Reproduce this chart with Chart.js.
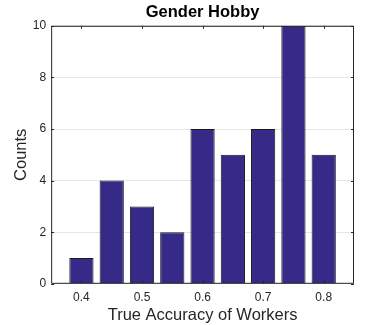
<!DOCTYPE html>
<html>
<head>
<meta charset="utf-8">
<script src="https://cdn.jsdelivr.net/npm/chart.js@4"></script>
<style>
  html, body { margin: 0; padding: 0; background: #fff; }
  #wrap { width: 390px; height: 325px; }
</style>
</head>
<body>
<div id="wrap"><canvas id="myChart"></canvas></div>
<script>
const accuracy = [0.40, 0.45, 0.50, 0.55, 0.60, 0.65, 0.70, 0.75, 0.80];
const counts = [1, 4, 3, 2, 6, 5, 6, 10, 5];
const xTicks = [0.4, 0.5, 0.6, 0.7, 0.8];
const yTicks = [0, 2, 4, 6, 8, 10];

// MATLAB style box with inward ticks
const boxPlugin = {
  id: 'box',
  afterDraw(chart) {
    const c = chart.ctx, a = chart.chartArea;
    const x = chart.scales.x, y = chart.scales.y;
    c.save();
    c.strokeStyle = '#262626';
    c.lineWidth = 1;
    c.beginPath();
    c.rect(a.left + 0.5, a.top + 0.5, a.right - a.left - 1, a.bottom - a.top - 1);
    xTicks.forEach(v => {
      const px = Math.round(x.getPixelForValue(v)) + 0.5;
      c.moveTo(px, a.bottom); c.lineTo(px, a.bottom - 3);
      c.moveTo(px, a.top); c.lineTo(px, a.top + 3);
    });
    yTicks.forEach(v => {
      const py = Math.round(y.getPixelForValue(v)) + 0.5;
      c.moveTo(a.left, py); c.lineTo(a.left + 3, py);
      c.moveTo(a.right, py); c.lineTo(a.right - 3, py);
    });
    c.stroke();
    c.restore();
  }
};

const ctx = document.getElementById('myChart');

const chart = new Chart(ctx, {
  type: 'bar',
  data: {
    datasets: [{
      data: accuracy.map((v, i) => ({ x: v, y: counts[i] })),
      backgroundColor: '#352a87',
      borderColor: '#1a1a1a',
      borderWidth: 1,
      barPercentage: 0.8,
      categoryPercentage: 1.0
    }]
  },
  options: {
    responsive: true,
    maintainAspectRatio: false,
    animation: false,
    layout: { padding: { left: 12, right: 36, top: 0, bottom: 0 } },
    plugins: {
      legend: { display: false },
      tooltip: { enabled: false },
      title: {
        display: true,
        fullSize: false,
        text: 'Gender Hobby',
        color: '#000',
        font: { family: 'Liberation Sans', size: 16.5, weight: 'bold' },
        padding: { top: 3, bottom: 3 }
      }
    },
    scales: {
      x: {
        type: 'linear',
        offset: false,
        min: 0.35,
        max: 0.85,
        afterBuildTicks(s) { s.ticks = xTicks.map(v => ({ value: v })); },
        grid: { display: false, drawTicks: false },
        border: { display: false },
        ticks: {
          color: '#262626',
          padding: 7,
          font: { family: 'Liberation Sans', size: 12 },
          callback: v => v.toFixed(1)
        },
        title: {
          display: true,
          text: 'True Accuracy of Workers',
          color: '#262626',
          font: { family: 'Liberation Sans', size: 16.5 },
          padding: { top: -7, bottom: 0 }
        }
      },
      y: {
        min: 0,
        max: 10,
        afterBuildTicks(s) { s.ticks = yTicks.map(v => ({ value: v })); },
        grid: { color: '#e6e6e6', drawTicks: false },
        border: { display: false },
        ticks: {
          color: '#262626',
          padding: 5,
          font: { family: 'Liberation Sans', size: 12 }
        },
        title: {
          display: true,
          text: 'Counts',
          color: '#262626',
          font: { family: 'Liberation Sans', size: 16.5 },
          padding: { top: 0, bottom: -4 }
        }
      }
    }
  },
  plugins: [boxPlugin]
});
</script>
</body>
</html>
